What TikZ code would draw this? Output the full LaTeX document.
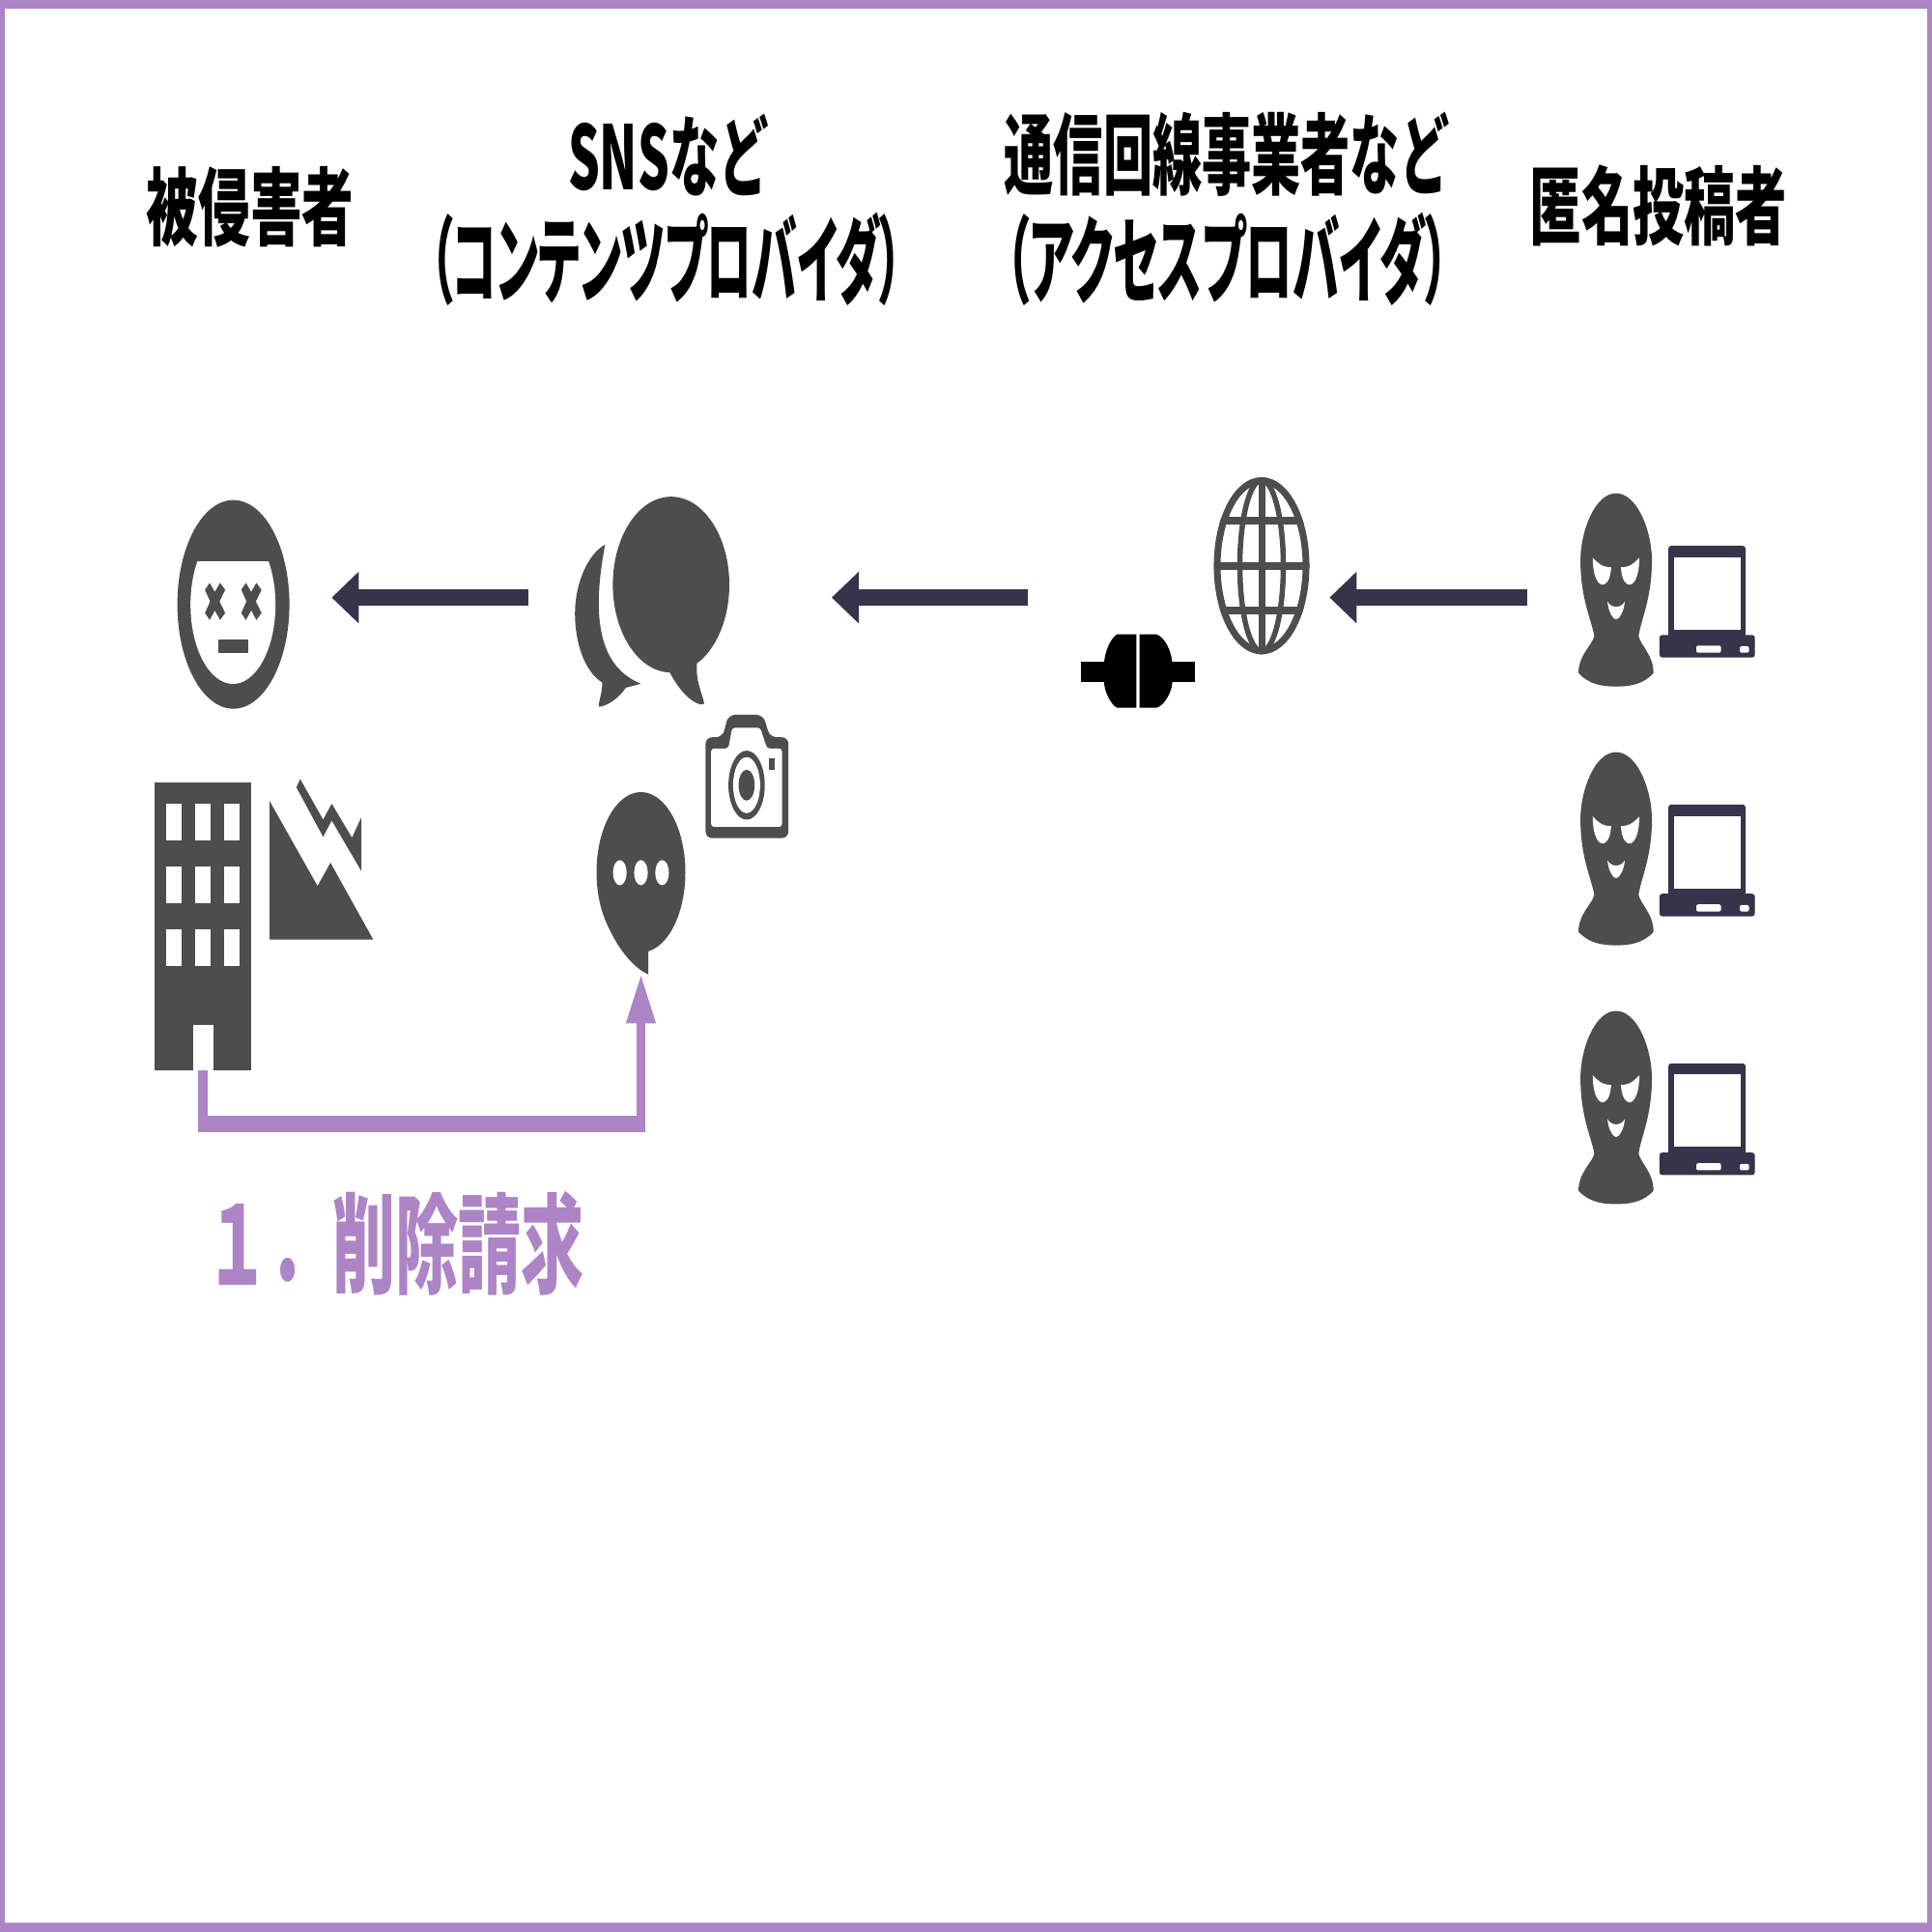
\documentclass[tikz,border=0pt]{standalone}
\usepackage{fontspec}
\usetikzlibrary{arrows.meta}
\newfontfamily\cjk{Noto Sans CJK JP Black}
\newfontfamily\cjkkana[RawFeature=+palt]{Noto Sans CJK JP Black}
\definecolor{iconfill}{HTML}{4D4D4D}
\definecolor{arrowfill}{HTML}{37334A}
\definecolor{lilac}{HTML}{AD84C6}
% title text, squeezed sideways
\newcommand{\squeezed}[2]{\scalebox{#1}[1]{#2}}
\tikzset{
  titletext/.style={font=\cjk\fontsize{#1}{#1}\selectfont, inner sep=0pt, text=black},
  kanatext/.style={font=\cjkkana\fontsize{28}{28}\selectfont, inner sep=0pt, text=black},
  steptext/.style={font=\cjk\fontsize{32}{32}\selectfont, inner sep=0pt, text=lilac},
  leftarrow/.style={-{Triangle[length=0.28cm,width=0.52cm]}, line width=0.174cm, arrowfill},
  lilacline/.style={line width=#1, lilac},
}
\begin{document}
\begin{tikzpicture}[x=1cm,y=1cm]
  % canvas 20 x 20 cm, 100 px of the reference = 1 cm
  \useasboundingbox (0,0) rectangle (20,20);

  % -- frame --
  \fill[lilac, even odd rule] (0,0) rectangle (20,20) (0.05,0.095) rectangle (19.95,19.91);

  % -- titles --
  \node[titletext=25] (victimtitle) at (2.59,17.86) {\squeezed{0.61}{被侵害者}};
  \node[titletext=26] (snstitle) at (6.92,18.39) {\squeezed{0.563}{SNSなど}};
  \node[kanatext] (contenttitle) at (6.90,17.32) {\squeezed{0.475}{（コンテンツプロバイダ）}};
  \node[titletext=26] (linetitle) at (12.70,18.40) {\squeezed{0.56}{通信回線事業者など}};
  \node[kanatext] (accesstitle) at (12.71,17.32) {\squeezed{0.493}{（アクセスプロバイダ）}};
  \node[titletext=25] (postertitle) at (17.17,17.87) {\squeezed{0.606}{匿名投稿者}};

  % -- face of the victim --
  \fill[iconfill] (2.416,13.743) ellipse (0.58 and 1.08);
  \begin{scope}
    \clip (1.5,14.18) rectangle (3.3,12);
    \fill[white] (2.412,13.74) ellipse (0.44 and 0.82);
  \end{scope}
  \foreach \x in {2.224,2.60}{
    \fill[iconfill] (\x-0.102,13.894) -- (\x-0.054,13.966) -- (\x,13.872) -- (\x+0.054,13.966)
      -- (\x+0.107,13.894) -- (\x+0.049,13.774) -- (\x+0.107,13.654) -- (\x+0.054,13.582)
      -- (\x,13.68) -- (\x-0.054,13.582) -- (\x-0.102,13.654) -- (\x-0.049,13.774) -- cycle; }
  \fill[iconfill] (2.255,13.377) rectangle (2.572,13.243);

  % -- speech bubbles --
  \fill[iconfill] (6.947,13.948) ellipse (0.603 and 0.91);
  \fill[iconfill] (7.215,13.136) .. controls (7.2,12.95) and (7.26,12.85) .. (7.29,12.72)
    .. controls (7.28,12.68) and (7.1,12.72) .. (6.934,13.038) -- cycle;
  \fill[iconfill] (6.264,14.363) .. controls (6.12,13.6) and (6.2,13.1) .. (6.635,12.921)
    -- (6.479,12.881) .. controls (6.4,12.76) and (6.26,12.68) .. (6.197,12.685)
    .. controls (6.2,12.75) and (6.24,12.85) .. (6.233,12.935)
    .. controls (6.05,13.05) and (5.952,13.35) .. (5.952,13.649)
    .. controls (5.952,13.95) and (6.08,14.26) .. (6.264,14.363) -- cycle;

  % -- camera --
  \fill[iconfill, rounded corners=0.07cm] (7.304,11.323) -- (7.304,12.368) -- (7.48,12.368)
    -- (7.54,12.6) -- (7.90,12.6) -- (7.97,12.368) -- (8.162,12.368) -- (8.162,11.323) -- cycle;
  \fill[white, rounded corners=0.03cm] (7.362,11.44) -- (7.362,12.252) -- (7.54,12.252)
    -- (7.58,12.466) -- (7.87,12.466) -- (7.94,12.252) -- (8.095,12.252) -- (8.095,11.44) -- cycle;
  \fill[iconfill] (7.729,11.872) ellipse (0.188 and 0.357);
  \fill[white] (7.729,11.872) ellipse (0.14 and 0.29);
  \fill[iconfill] (7.729,11.872) ellipse (0.083 and 0.16);
  \fill[iconfill] (7.956,12.145) rectangle (8.019,12.033);

  % -- small bubble with three dots --
  \fill[iconfill] (6.635,10.97) ellipse (0.46 and 0.83);
  \fill[iconfill] (6.294,10.412) .. controls (6.39,10.2) and (6.54,9.99) .. (6.711,9.912)
    -- (6.711,10.3) -- cycle;
  \foreach \x in {6.416,6.635,6.854}{
    \fill[white] (\x,10.966) ellipse (0.071 and 0.13); }

  % -- building --
  \fill[iconfill] (1.599,11.895) rectangle (2.604,8.917);
  \fill[white] (2.001,9.386) rectangle (2.206,8.917);
  \foreach \x in {1.724,2.023,2.322}{
    \foreach \y in {11.676,11.029,10.377}{
      \fill[white] (\x,\y) rectangle (\x+0.156,\y-0.377); } }

  % -- broken mountain --
  \fill[iconfill] (2.791,11.707) -- (3.287,10.828) -- (3.421,11.069) -- (3.863,10.274)
    -- (2.791,10.274) -- cycle;
  \fill[iconfill] (3.108,11.935) -- (3.345,11.515) -- (3.434,11.68) -- (3.644,11.328)
    -- (3.742,11.542) -- (3.742,10.98) -- (3.434,11.506) -- (3.345,11.337)
    -- (3.068,11.85) -- cycle;

  % -- step of the request --
  \coordinate (doorfoot) at (2.101,8.917);
  \coordinate (turnleft) at (2.054,8.364);
  \coordinate (turnright) at (6.68,8.364);
  \coordinate (turnup) at (6.635,8.279);
  \coordinate (bubblefoot) at (6.635,9.92);
  \draw[lilacline=0.094cm] (doorfoot) -- (doorfoot |- turnup);
  \draw[lilacline=0.17cm] (turnleft) -- (turnright);
  \draw[lilacline=0.094cm, -{Triangle[length=0.514cm,width=0.282cm]}] (turnup) -- (bubblefoot);
  \node[steptext, anchor=west] (steplabel) at (2.13,7.13) {\squeezed{0.58}{１．削除請求}};

  % -- connector plug --
  \fill[black] (11.193,13.15) rectangle (11.764,12.943);
  \fill[black] (11.795,13.15) rectangle (12.366,12.943);
  \fill[black] (11.764,13.433) -- (11.565,13.433) .. controls (11.50,13.40) and (11.428,13.25) .. (11.428,13.10)
    -- (11.428,12.95) .. controls (11.428,12.85) and (11.50,12.70) .. (11.565,12.673) -- (11.764,12.673) -- cycle;
  \fill[black] (11.795,13.433) -- (11.973,13.433) .. controls (12.06,13.40) and (12.137,13.25) .. (12.137,13.10)
    -- (12.137,12.95) .. controls (12.137,12.85) and (12.06,12.70) .. (11.973,12.673) -- (11.795,12.673) -- cycle;

  % -- globe --
  \begin{scope}
    \clip (13.06,14.143) ellipse (0.495 and 0.917);
    \foreach \y in {14.61,14.143,13.677}{
      \fill[iconfill] (12.5,\y-0.04) rectangle (13.6,\y+0.04); }
    \fill[iconfill] (13.025,13.2) rectangle (13.095,15.1);
  \end{scope}
  \draw[iconfill, line width=0.055cm] (13.06,14.143) ellipse (0.225 and 0.885);
  \draw[iconfill, line width=0.07cm] (13.06,14.143) ellipse (0.46 and 0.882);

  % -- the three posters with their laptops --
  \foreach \dy in {0,-2.679,-5.358}{
    \begin{scope}[yshift=\dy cm]
      \fill[iconfill] (16.729,14.893) .. controls (16.51,14.893) and (16.361,14.5) .. (16.361,14.2)
        .. controls (16.361,13.8) and (16.47,13.6) .. (16.504,13.417)
        .. controls (16.49,13.33) and (16.34,13.22) .. (16.34,13.033)
        .. controls (16.45,12.91) and (16.6,12.893) .. (16.729,12.893)
        .. controls (16.86,12.893) and (17.01,12.91) .. (17.117,13.033)
        .. controls (17.117,13.22) and (16.975,13.33) .. (16.963,13.417)
        .. controls (16.99,13.6) and (17.10,13.8) .. (17.10,14.2)
        .. controls (17.10,14.5) and (16.95,14.893) .. (16.729,14.893) -- cycle;
      \foreach \m in {1,-1}{
        \fill[white] (16.729+\m*0.242,14.227) .. controls (16.729+\m*0.15,14.13) and (16.729+\m*0.11,14.13) .. (16.729+\m*0.05,14.127)
          .. controls (16.729+\m*0.06,13.98) and (16.729+\m*0.11,13.94) .. (16.729+\m*0.15,13.947)
          .. controls (16.729+\m*0.21,13.97) and (16.729+\m*0.24,14.08) .. (16.729+\m*0.242,14.227) -- cycle; }
      \fill[white] (16.64,13.773) .. controls (16.68,13.70) and (16.78,13.70) .. (16.82,13.773)
        .. controls (16.81,13.66) and (16.76,13.59) .. (16.729,13.587)
        .. controls (16.70,13.59) and (16.65,13.66) .. (16.64,13.773) -- cycle;
      \fill[arrowfill, rounded corners=0.03cm] (17.27,13.40) rectangle (18.07,14.35);
      \fill[white] (17.326,13.483) rectangle (18.015,14.233);
      \fill[arrowfill, rounded corners=0.03cm] (17.178,13.427) rectangle (18.167,13.193);
      \fill[white, rounded corners=0.02cm] (17.56,13.317) rectangle (17.816,13.243);
      \fill[white, rounded corners=0.02cm] (18.01,13.31) rectangle (18.106,13.243);
    \end{scope} }

  % -- arrows towards the left --
  \coordinate (victimside) at (3.434,13.814);
  \coordinate (contentfrom) at (5.474,13.814);
  \coordinate (contentside) at (8.61,13.814);
  \coordinate (accessfrom) at (10.64,13.814);
  \coordinate (accessside) at (13.764,13.814);
  \coordinate (posterfrom) at (15.805,13.814);
  \draw[leftarrow] (contentfrom) -- (victimside);
  \draw[leftarrow] (accessfrom) -- (contentside);
  \draw[leftarrow] (posterfrom) -- (accessside);
\end{tikzpicture}
\end{document}
